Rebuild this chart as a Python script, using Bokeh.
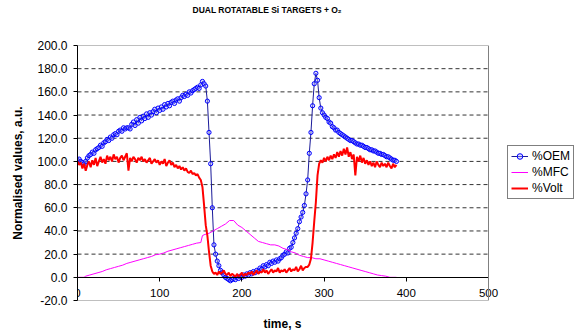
from bokeh.plotting import figure
from bokeh.models import (Range1d, FixedTicker, NumeralTickFormatter, Title,
                          Legend, LegendItem, Span)
from bokeh.embed import file_html
from bokeh.resources import INLINE

# ---------------- data ----------------
time_s = list(range(0, 390, 2))

oem = [
    101, 102, 100, 99, 98, 100, 103, 105, 106, 108,
    107, 110, 111, 112, 114, 113, 116, 117, 119, 118,
    121, 120, 123, 124, 123, 126, 127, 126, 129, 128,
    129, 129, 128, 132, 134, 131, 136, 133, 138, 135,
    139, 137, 141, 138, 142, 140, 143, 145, 142, 146,
    144, 147, 145, 149, 147, 150, 148, 151, 152, 150,
    153, 154, 152, 155, 157, 156, 158, 157, 160, 159,
    161, 162, 163, 164, 163, 166, 169, 167, 165, 152,
    125, 98, 60, 28, 20, 14, 10, 6, 4, 2,
    0, -1, -2, -3, -2, -1, -2, 0, -1, 1,
    0, 2, 1, 3, 2, 4, 3, 5, 4, 6,
    5, 8, 7, 10, 9, 11, 10, 13, 12, 14,
    13, 15, 14, 16, 17, 19, 20, 22, 21, 25,
    26, 30, 34, 38, 42, 48, 52, 56, 62, 72,
    84, 107, 125, 148, 167, 176, 170, 155, 146, 142,
    140, 138, 137, 134, 133, 130, 129, 127, 127, 125,
    124, 123, 122, 121, 120, 119, 118, 118, 117, 116,
    115, 115, 114, 114, 113, 112, 112, 111, 110, 110,
    109, 109, 108, 107, 107, 106, 106, 105, 104, 104,
    103, 102, 101, 101, 100,
]

volt = [
    100, 97, 99, 94, 98, 92, 97, 100, 95, 101,
    97, 103, 96, 100, 104, 99, 102, 98, 105, 101,
    104, 100, 106, 102, 104, 99, 103, 105, 101, 104,
    107, 92, 103, 100, 104, 102, 99, 103, 101, 104,
    100, 102, 99, 101, 103, 98, 100, 102, 99, 101,
    97, 100, 98, 102, 96, 99, 101, 97, 99, 95,
    97, 94, 96, 93, 95, 92, 94, 91, 90, 92,
    89, 90, 88, 89, 86, 84, 78, 62, 45, 36,
    22, 10, 5, 3, 4, 2, 5, 3, 4, 6,
    3, 2, 4, 1, 3, 2, 0, 3, 1, 2,
    4, 1, 3, 2, 4, 3, 5, 2, 4, 6,
    3, 5, 4, 7, 4, 6, 3, 5, 7, 4,
    6, 5, 8, 4, 6, 5, 7, 4, 6, 8,
    5, 7, 6, 9, 5, 7, 10, 6, 8, 9,
    9, 11, 16, 30, 48, 65, 88, 98, 101, 99,
    103, 100, 104, 101, 105, 102, 106, 103, 108, 104,
    109, 105, 111, 106, 112, 104, 108, 102, 106, 88,
    104, 100, 105, 99, 103, 98, 101, 97, 100, 96,
    99, 95, 100, 97, 95, 99, 96, 98, 95, 99,
    96, 94, 98, 95, 97,
]

mfc_time = [0, 8, 10, 15, 20, 25, 30, 35, 40, 45, 50, 55, 60, 65, 70, 75, 80,
            85, 90, 95, 100, 105, 110, 115, 120, 125, 130, 135, 140, 145, 150,
            152, 155, 160, 165, 170, 175, 180, 185, 190, 195, 200, 205, 210,
            215, 220, 225, 230, 235, 240, 245, 250, 255, 260, 265, 270, 275,
            280, 285, 290, 295, 300, 305, 310, 315, 320, 325, 330, 335, 340,
            345, 350, 355, 360, 365, 370, 375, 380, 388]
mfc = [0, 0, 1, 2, 3, 4, 5, 6.5, 7.5, 8.5, 9.5, 10.5, 12, 13, 14, 15, 16,
       17, 18, 19.5, 20, 21, 22.5, 23.5, 24.5, 25.5, 26.5, 27.5, 28.5, 29.5, 30,
       36, 37, 38, 40, 42, 44, 46, 49, 49, 45, 43, 40, 37,
       34, 31, 30, 29, 28, 28, 27, 25, 24, 22, 21, 19, 18,
       17, 17, 16, 16, 15, 14, 13, 12, 11, 10, 9, 8, 7,
       6, 5, 4, 3, 2, 1.5, 1, 0, 0]

x_ticks = [0, 100, 200, 300, 400, 500]
y_ticks = [-20, 0, 20, 40, 60, 80, 100, 120, 140, 160, 180, 200]
grid_ticks = [20, 40, 60, 80, 100, 120, 140, 160, 180]
x_min, x_max = 0, 500
y_min, y_max = -20, 200

title_text = "DUAL ROTATABLE Si TARGETS + O\u2082"
x_label = "time, s"
y_label = "Normalised values, a.u."
series_names = ["%OEM", "%MFC", "%Volt"]

FONT = "Liberation Sans"

# ---------------- layout ----------------
W, H = 574, 331
LEFT, TOP, BOTTOM = 77, 45, 31
PLOT_W = 411            # pixels used by 0..500 on the x axis
FRAME_W = W - LEFT      # frame extends under the legend area
x_view_end = x_max * FRAME_W / PLOT_W

p = figure(width=W, height=H,
           x_range=Range1d(x_min, x_view_end), y_range=Range1d(y_min, y_max),
           output_backend="svg", toolbar_location=None,
           min_border_left=LEFT, min_border_right=0,
           min_border_top=TOP, min_border_bottom=BOTTOM)

p.background_fill_color = "white"
p.border_fill_color = "white"
p.outline_line_color = None


def spacer(px):
    return Title(text=" ", text_font_size="1px", standoff=px,
                 text_color="white")


# title (spacer next to the frame, then the title text)
p.add_layout(spacer(27), "above")
p.add_layout(Title(text=title_text, align="left", offset=115, standoff=2,
                   text_font=FONT, text_font_size="8.5px",
                   text_font_style="bold", text_color="black"), "above")

# x axis drawn at y = 0
xa = p.xaxis[0]
xa.fixed_location = 0
xa.bounds = (x_min, x_max)
xa.ticker = FixedTicker(ticks=x_ticks)
xa.axis_line_color = "black"
xa.major_tick_line_color = "black"
xa.major_tick_in = 0
xa.major_tick_out = 4
xa.minor_tick_line_color = None
xa.major_label_standoff = 8
xa.major_label_text_font = FONT
xa.major_label_text_font_size = "11.5px"
xa.major_label_text_color = "black"

p.add_layout(spacer(10), "below")
p.add_layout(Title(text=x_label, align="left", offset=186, text_font=FONT,
                   text_font_size="12px", text_font_style="bold",
                   text_color="black", standoff=2), "below")

# y axis
ya = p.yaxis[0]
ya.ticker = FixedTicker(ticks=y_ticks)
ya.formatter = NumeralTickFormatter(format="0.0")
ya.axis_line_color = "black"
ya.major_tick_line_color = "black"
ya.major_tick_in = 0
ya.major_tick_out = 4
ya.minor_tick_line_color = None
ya.major_label_standoff = 6
ya.major_label_text_font = FONT
ya.major_label_text_font_size = "12px"
ya.major_label_text_color = "black"
ya.axis_label = y_label
ya.axis_label_text_font = FONT
ya.axis_label_text_font_size = "12px"
ya.axis_label_text_font_style = "bold"
ya.axis_label_text_color = "black"
ya.axis_label_standoff = 9

# grid: dashed lines over 0..500 only, grey border at top/bottom/right
p.xgrid.grid_line_color = None
p.ygrid.grid_line_color = None
n = len(grid_ticks)
p.segment(x0=[x_min] * n, x1=[x_max] * n, y0=grid_ticks, y1=grid_ticks,
          line_color="black", line_alpha=0.8, line_dash="4 3", line_width=1)
p.segment(x0=[x_min, x_min], x1=[x_max, x_max], y0=[y_min, y_max],
          y1=[y_min, y_max], line_color="#808080", line_width=1)
p.add_layout(Span(location=x_max, dimension="height",
                  line_color="#808080", line_width=1))

# ---------------- series ----------------
oem_line = p.line(time_s, oem, line_color="#1A1A99", line_width=1)
oem_pts = p.scatter(time_s, oem, marker="circle", size=4.2,
                    line_color="#0000FF", line_width=1,
                    fill_color="#B0B0FF", fill_alpha=0.4)
mfc_line = p.line(mfc_time, mfc, line_color="#FF00FF", line_width=1)
volt_line = p.line(time_s, volt, line_color="#FF0000", line_width=2)

legend = Legend(items=[
    LegendItem(label=series_names[0], renderers=[oem_line, oem_pts]),
    LegendItem(label=series_names[1], renderers=[mfc_line]),
    LegendItem(label=series_names[2], renderers=[volt_line]),
], location=(430, 101), margin=0, padding=3, spacing=2,
   label_height=14, glyph_height=14, glyph_width=17, label_standoff=4,
   border_line_color="black", border_line_width=1,
   background_fill_color="white", background_fill_alpha=1.0,
   label_text_font=FONT, label_text_font_size="12px",
   label_text_color="black")
p.add_layout(legend, "center")

open("out.html", "w").write(file_html(p, INLINE))
